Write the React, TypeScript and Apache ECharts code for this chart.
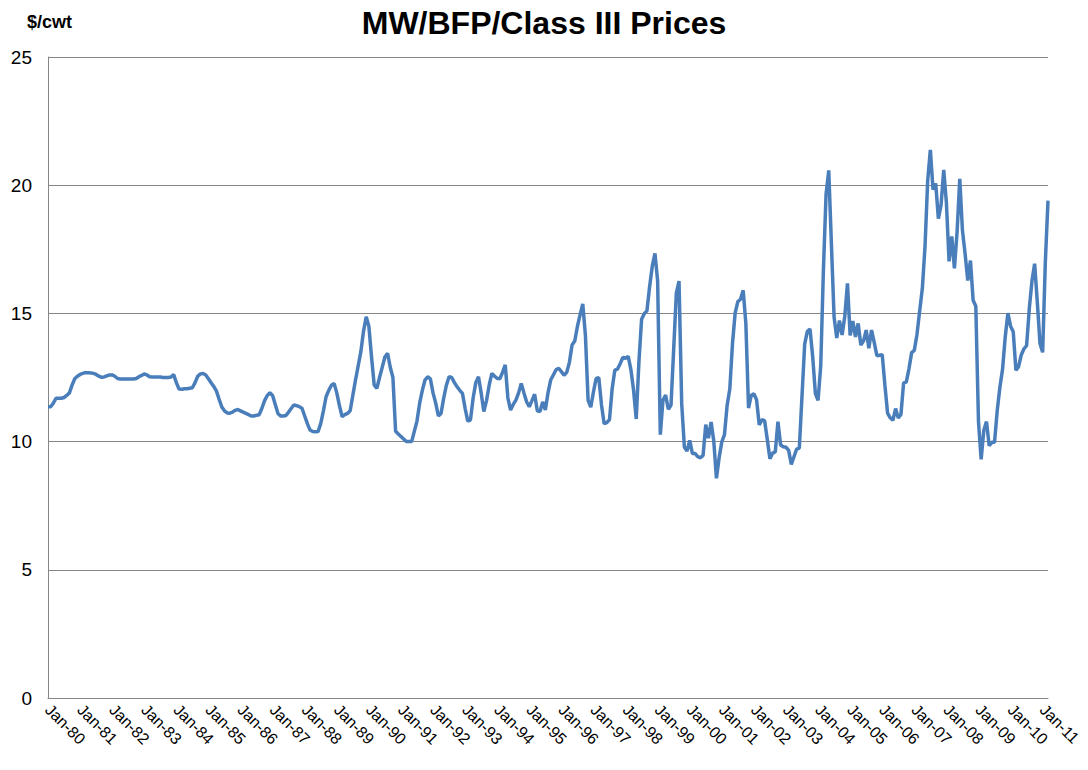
import React, { useEffect, useRef } from "react";
import * as echarts from "echarts";

// Monthly prices ($/cwt), Jan-1980 .. Mar-2011
const prices1980s: number[] = [
  // 1980
  11.36, 11.36, 11.5, 11.69, 11.69, 11.69, 11.72, 11.8, 11.9, 12.2, 12.45, 12.55,
  // 1981
  12.62, 12.66, 12.69, 12.69, 12.68, 12.66, 12.62, 12.55, 12.51, 12.52, 12.56, 12.6,
  // 1982
  12.6, 12.55, 12.46, 12.44, 12.44, 12.44, 12.44, 12.44, 12.44, 12.46, 12.53, 12.58,
  // 1983
  12.64, 12.6, 12.53, 12.52, 12.52, 12.52, 12.52, 12.5, 12.5, 12.5, 12.52, 12.62,
  // 1984
  12.3, 12.05, 12.04, 12.06, 12.06, 12.08, 12.1, 12.3, 12.55, 12.64, 12.66, 12.6,
  // 1985
  12.45, 12.3, 12.15, 11.97, 11.65, 11.35, 11.2, 11.12, 11.11, 11.15, 11.22, 11.25,
  // 1986
  11.2, 11.15, 11.1, 11.05, 11.0, 11.0, 11.03, 11.05, 11.3, 11.6, 11.8, 11.9,
  // 1987
  11.8, 11.45, 11.1, 11.0, 11.0, 11.02, 11.15, 11.3, 11.43, 11.4, 11.36, 11.3,
  // 1988
  11.0, 10.7, 10.45, 10.39, 10.38, 10.39, 10.7, 11.2, 11.75, 12.0, 12.2, 12.27,
  // 1989
  11.9, 11.4, 10.97, 11.05, 11.1, 11.2, 11.8, 12.4, 12.95, 13.5, 14.3, 14.87,
];

const prices1990s: number[] = [
  // 1990
  14.5, 13.3, 12.2, 12.08, 12.5, 12.9, 13.3, 13.44, 12.9, 12.5, 10.4, 10.3,
  // 1991
  10.2, 10.1, 10.0, 10.0, 10.0, 10.4, 10.8, 11.5, 12.0, 12.4, 12.53, 12.45,
  // 1992
  11.9, 11.5, 11.0, 11.1, 11.7, 12.2, 12.53, 12.5, 12.3, 12.14, 12.0, 11.88,
  // 1993
  11.3, 10.8, 10.85, 11.7, 12.3, 12.53, 11.9, 11.17, 11.6, 12.2, 12.66, 12.55,
  // 1994
  12.47, 12.45, 12.7, 12.99, 11.7, 11.23, 11.45, 11.62, 11.9, 12.27, 11.9, 11.55,
  // 1995
  11.36, 11.6, 11.85, 11.2, 11.17, 11.55, 11.23, 11.9, 12.4, 12.6, 12.8, 12.86,
  // 1996
  12.73, 12.59, 12.7, 13.09, 13.77, 13.92, 14.49, 14.94, 15.37, 14.13, 11.61, 11.34,
  // 1997
  11.94, 12.46, 12.49, 11.44, 10.7, 10.74, 10.86, 12.07, 12.79, 12.83, 13.04, 13.28,
  // 1998
  13.25, 13.32, 12.81, 12.01, 10.88, 13.1, 14.77, 14.99, 15.1, 16.04, 16.84, 17.34,
  // 1999
  16.27, 10.27, 11.62, 11.81, 11.26, 11.42, 13.59, 15.79, 16.26, 11.49, 9.79, 9.63,
];

const prices2000s: number[] = [
  // 2000
  10.05, 9.54, 9.54, 9.41, 9.37, 9.46, 10.66, 10.13, 10.76, 10.02, 8.57, 9.37,
  // 2001
  9.99, 10.27, 11.42, 12.06, 13.83, 15.02, 15.46, 15.55, 15.9, 14.6, 11.31, 11.8,
  // 2002
  11.87, 11.63, 10.65, 10.85, 10.82, 10.09, 9.33, 9.55, 9.6, 10.78, 9.87, 9.8,
  // 2003
  9.78, 9.66, 9.11, 9.41, 9.71, 9.75, 11.78, 13.8, 14.3, 14.39, 13.3, 11.87,
  // 2004
  11.61, 12.95, 16.68, 19.66, 20.58, 17.68, 14.85, 14.04, 14.72, 14.16, 14.89, 16.17,
  // 2005
  14.14, 14.7, 14.08, 14.61, 13.77, 13.92, 14.35, 13.64, 14.35, 13.87, 13.35, 13.37,
  // 2006
  13.39, 12.2, 11.11, 10.93, 10.83, 11.29, 10.92, 11.06, 12.29, 12.32, 12.84, 13.47,
  // 2007
  13.56, 14.18, 15.09, 15.97, 17.6, 20.17, 21.38, 19.83, 20.07, 18.7, 19.22, 20.6,
  // 2008
  19.32, 17.03, 18.0, 16.76, 18.18, 20.25, 18.24, 17.32, 16.28, 17.06, 15.51, 15.28,
  // 2009
  10.78, 9.31, 10.44, 10.78, 9.84, 9.97, 9.97, 11.2, 12.11, 12.82, 14.08, 15.01,
];

const prices2010s: number[] = [
  // 2010
  14.5, 14.28, 12.78, 12.92, 13.38, 13.62, 13.74, 15.18, 16.26, 16.94, 15.44, 13.83,
  // 2011
  13.48, 17.0, 19.4,
];

const monthNames = ["Jan", "Feb", "Mar", "Apr", "May", "Jun", "Jul", "Aug", "Sep", "Oct", "Nov", "Dec"];
const startYear = 1980;

const chartTitle = "MW/BFP/Class III Prices";
const unitLabel = "$/cwt";

const FONT = "'Liberation Sans', Arial, sans-serif";

export default function App() {
  const ref = useRef<HTMLDivElement>(null);

  useEffect(() => {
    if (!ref.current) return;
    const values = [...prices1980s, ...prices1990s, ...prices2000s, ...prices2010s];
    const categories = values.map((_, i) => {
      const y = startYear + Math.floor(i / 12);
      return `${monthNames[i % 12]}-${String(y % 100).padStart(2, "0")}`;
    });

    const chart = echarts.init(ref.current, undefined, { renderer: "svg" });
    chart.setOption({
      animation: false,
      backgroundColor: "#ffffff",
      title: [
        {
          text: chartTitle,
          left: "center",
          top: 2,
          textStyle: { fontFamily: FONT, fontSize: 32, fontWeight: "bold", color: "#000" },
        },
        {
          text: unitLabel,
          left: 22,
          top: 8,
          textStyle: { fontFamily: FONT, fontSize: 18, fontWeight: "bold", color: "#000" },
        },
      ],
      grid: { left: 48, right: 40, top: 57, bottom: 72, containLabel: false },
      xAxis: {
        type: "category",
        data: categories,
        boundaryGap: false,
        axisLine: { show: true, lineStyle: { color: "#868686", width: 1 } },
        axisTick: { show: false },
        axisLabel: {
          interval: 11,
          rotate: -45,
          margin: 9,
          fontFamily: FONT,
          fontSize: 16,
          color: "#000",
        },
        splitLine: { show: false },
      },
      yAxis: {
        type: "value",
        min: 0,
        max: 25,
        interval: 5,
        axisLine: { show: true, lineStyle: { color: "#868686", width: 1 } },
        axisTick: { show: false },
        axisLabel: { fontFamily: FONT, fontSize: 19, color: "#000", margin: 16 },
        splitLine: { show: true, lineStyle: { color: "#868686", width: 1 } },
      },
      series: [
        {
          type: "line",
          data: values,
          showSymbol: false,
          symbol: "none",
          lineStyle: { color: "#4a7ebb", width: 3.5 },
          itemStyle: { color: "#4a7ebb" },
        },
      ],
    });
    return () => chart.dispose();
  }, []);

  return (
    <div
      ref={ref}
      style={{ position: "absolute", left: 0, top: 0, width: 1088, height: 770 }}
    />
  );
}
